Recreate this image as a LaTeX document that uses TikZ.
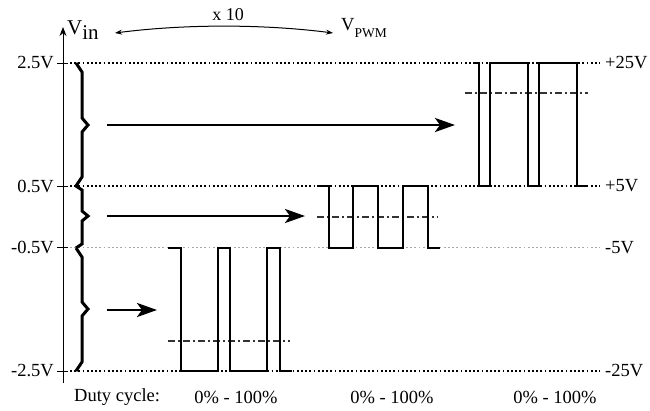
\documentclass[tikz,border=0pt]{standalone}
\usepackage{fontspec}
\setmainfont{Liberation Serif}
\usetikzlibrary{arrows.meta}
\begin{document}
\begin{tikzpicture}[x=1pt,y=-1pt,
  lbl/.style={inner sep=0pt,font=\fontsize{18.5}{18.5}\selectfont},
  refline/.style={line width=1.3pt,dash pattern=on 1.8pt off 2.4pt},
  greyline/.style={refline,draw=black!35},
  wave/.style={line width=2.9pt,miter limit=10},
  meanline/.style={line width=1.3pt,draw=black!80,dash pattern=on 7pt off 3pt on 2pt off 3pt},
  bracepath/.style={line width=3pt,line join=miter},
  bigarrow/.style={line width=2.8pt,-{Stealth[length=20pt,width=14pt,inset=5pt]}},
  axisline/.style={line width=1pt},
  tick/.style={line width=1pt}]
\useasboundingbox (0,0) rectangle (650,410);

% reference levels
\draw[refline] (70,63) -- (600,63);
\draw[refline] (70,186) -- (600,186);
\draw[greyline] (70,247.5) -- (600,247.5);
\draw[refline] (70,371) -- (600,371);

% axis
\coordinate (axbot) at (63,383);
\coordinate (axtop) at (63,27);
\draw[axisline,-{Stealth[length=9pt,width=7pt]}] (axbot) -- (axtop);
\foreach \yy in {63,186,247.5,371} \draw[tick] (57,\yy) -- (68,\yy);

% axis labels
\node[lbl,anchor=east] (l25) at (54,63) {2.5V};
\node[lbl,anchor=east] (l05) at (54,186) {0.5V};
\node[lbl,anchor=east] (lm05) at (54,247.5) {-0.5V};
\node[lbl,anchor=east] (lm25) at (54,371) {-2.5V};
\node[lbl,anchor=west] (r25) at (605,63) {+25V};
\node[lbl,anchor=west] (r5) at (605,186) {+5V};
\node[lbl,anchor=west] (rm5) at (605,247.5) {-5V};
\node[lbl,anchor=west] (rm25) at (605,371) {-25V};

% titles
\node[inner sep=0pt,anchor=base west] (vin) at (67,34) {\fontsize{21}{21}\selectfont V\raisebox{-5pt}{in}};
\node[inner sep=0pt,anchor=base west] (vpwm) at (341,30) {\fontsize{18.5}{18.5}\selectfont V\raisebox{-7pt}{\fontsize{13.5}{13.5}\selectfont PWM}};
\node[inner sep=0pt,font=\fontsize{18}{18}\selectfont] (x10) at (228,15) {x 10};
\coordinate (cl) at (115,33);
\coordinate (cr) at (333,33);
\draw[line width=1pt,{Stealth[length=7pt,width=5pt]}-{Stealth[length=7pt,width=5pt]}] (cl) .. controls (185,24) and (263,24) .. (cr);

% braces
\draw[bracepath] (76,63) -- (82,72) -- (82,118) -- (88,125) -- (82,132) -- (82,177) -- (76,186);
\draw[bracepath] (76,186) -- (82,190) -- (82,211) -- (88,216) -- (82,221) -- (82,244) -- (76,248);
\draw[bracepath] (76,248) -- (82,257) -- (82,302) -- (88,309) -- (82,316) -- (82,362) -- (76,371);

% arrows
\coordinate (a1s) at (107,125); \coordinate (a1e) at (455,125);
\coordinate (a2s) at (107,216); \coordinate (a2e) at (305,216);
\coordinate (a3s) at (107,310); \coordinate (a3e) at (157,310);
\draw[bigarrow] (a1s) -- (a1e);
\draw[bigarrow] (a2s) -- (a2e);
\draw[bigarrow] (a3s) -- (a3e);

% waveforms
\draw[meanline] (465,93) -- (588,93);
\draw[wave] (475,63) -- (479,63) -- (479,186) -- (490,186) -- (490,63) -- (528,63) -- (528,186) -- (539,186) -- (539,63) -- (577,63) -- (577,186) -- (588,186);

\draw[meanline] (317,217) -- (438,217);
\draw[wave] (317,186) -- (329,186) -- (329,248) -- (353,248) -- (353,186) -- (378,186) -- (378,248) -- (403,248) -- (403,186) -- (428,186) -- (428,248) -- (440,248);

\draw[meanline] (168,341) -- (290,341);
\draw[wave] (168,248) -- (181,248) -- (181,371) -- (218,371) -- (218,248) -- (230,248) -- (230,371) -- (267,371) -- (267,248) -- (280,248) -- (280,371) -- (292,371);

% duty cycle labels
\node[lbl,anchor=west] (dc) at (74,397) {Duty cycle:};
\node[lbl] (d1) at (236,397) {0\% - 100\%};
\node[lbl] (d2) at (392,397) {0\% - 100\%};
\node[lbl] (d3) at (555,397) {0\% - 100\%};
\end{tikzpicture}
\end{document}
